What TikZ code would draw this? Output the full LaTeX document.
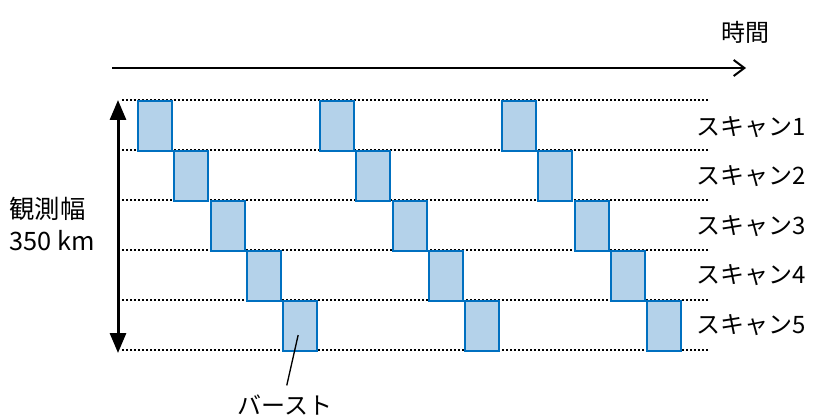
\documentclass[tikz,border=0pt]{standalone}
\usepackage{fontspec}
\setmainfont{Noto Sans CJK JP}
\usetikzlibrary{arrows.meta, positioning}
\definecolor{burstfill}{RGB}{180,210,234}
\definecolor{burstline}{RGB}{0,112,192}

\begin{document}
\begin{tikzpicture}[x=0.75pt, y=-0.75pt,
  burst/.style={draw=burstline, line width=1.5pt, fill=burstfill, minimum width=25.5pt, minimum height=37.5pt, inner sep=0pt, anchor=north west},
  lbl/.style={font=\fontsize{18}{24}\selectfont, inner sep=1pt},
  guide/.style={line width=1.5pt, dash pattern=on 1.5pt off 1.5pt},
  arr/.style={-{Straight Barb[length=8pt, width=12pt]}, line width=1.5pt},
  dbl/.style={{Triangle[length=15pt, width=12pt]}-{Triangle[length=15pt, width=12pt]}, line width=2.25pt},
]
\useasboundingbox (0,0) rectangle (814,417);
% Time axis
\node[lbl] (time) at (745,32) {時間};
\coordinate (t0) at (112,68);
\coordinate (t1) at (746,68);
\draw[arr] (t0) -- (t1);
% Scan boundaries
\foreach \k in {0,...,5} {
  \coordinate (gl\k) at (122,{100+50*\k});
  \coordinate (gr\k) at (710,{100+50*\k});
  \draw[guide] (gl\k) -- (gr\k);
}
% Bursts (three cycles of five scans)
\foreach \c in {0,1,2} {
  \foreach \r in {1,...,5} {
    \node[burst] (b\c\r) at ({137+182*\c+36.3*(\r-1)},{100+50*(\r-1)}) {};
  }
}
% Scan labels
\foreach \r in {1,...,5} {
  \node[lbl, anchor=west] (scan\r) at (695,{127+49.5*(\r-1)}) {スキャン\r};
}
% Swath width
\coordinate (wtop) at (118,100);
\coordinate (wbot) at (118,353);
\draw[dbl] (wtop) -- (wbot);
\node[lbl, anchor=north west, align=left, font=\fontsize{19}{24}\selectfont] (swath) at (8,196) {観測幅\\350 km};
% Burst callout
\node[lbl] (burstlbl) at (285,405) {バースト};
\draw[line width=1pt, shorten <=7pt, shorten >=6pt] (b05.center) -- (burstlbl.north);
\end{tikzpicture}
\end{document}
